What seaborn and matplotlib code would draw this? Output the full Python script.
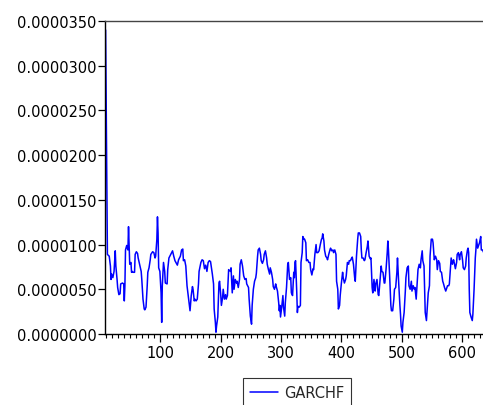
import numpy as np
import pandas as pd
import matplotlib
matplotlib.use("Agg")
import matplotlib.pyplot as plt
import seaborn as sns
from matplotlib.ticker import MultipleLocator, FuncFormatter, FixedLocator

# ---- data ----
obs = [9, 12, 15, 17, 18, 19, 21, 23, 25, 26, 28, 29, 31, 33, 34, 37, 39, 40, 41, 42,
       44, 46, 47, 48, 49, 51, 52, 53, 55, 57, 58, 60, 62, 63, 66, 68, 69, 71, 73, 74,
       76, 78, 79, 81, 83, 84, 87, 89, 91, 92, 94, 95, 96, 97, 99, 101, 102, 103, 105, 107,
       108, 111, 112, 114, 117, 120, 122, 124, 128, 130, 133, 135, 137, 138, 140, 142, 144, 146, 148, 149,
       151, 153, 154, 156, 157, 159, 161, 163, 164, 167, 169, 171, 173, 175, 177, 179, 181, 183, 186, 188,
       189, 191, 192, 193, 195, 197, 198, 200, 201, 203, 204, 206, 208, 209, 211, 213, 216, 217, 219, 221,
       222, 224, 226, 227, 229, 231, 232, 234, 236, 238, 240, 242, 243, 246, 247, 249, 251, 252, 254, 256,
       258, 259, 261, 262, 264, 266, 267, 269, 271, 272, 274, 276, 277, 279, 281, 282, 284, 286, 287, 289,
       291, 292, 294, 296, 297, 298, 299, 301, 303, 304, 306, 307, 309, 311, 312, 314, 316, 317, 319, 321,
       322, 323, 324, 326, 327, 328, 330, 332, 333, 335, 336, 338, 339, 341, 342, 344, 346, 348, 349, 351,
       353, 354, 356, 358, 359, 361, 363, 365, 367, 368, 369, 371, 372, 374, 376, 377, 379, 381, 382, 384,
       386, 387, 389, 391, 392, 394, 395, 397, 398, 400, 402, 403, 405, 407, 408, 410, 412, 413, 415, 417,
       418, 420, 422, 423, 425, 427, 428, 430, 432, 433, 434, 436, 438, 439, 441, 443, 444, 446, 448, 449,
       451, 452, 454, 456, 457, 459, 461, 462, 464, 466, 467, 469, 471, 472, 474, 476, 477, 478, 480, 482,
       483, 485, 487, 488, 490, 492, 493, 495, 497, 498, 499, 501, 502, 504, 506, 507, 509, 511, 512, 514,
       516, 517, 519, 521, 522, 524, 526, 527, 529, 531, 532, 534, 535, 537, 538, 539, 541, 542, 544, 546,
       547, 549, 551, 552, 553, 554, 556, 558, 559, 561, 563, 564, 566, 568, 569, 571, 573, 574, 576, 578,
       579, 581, 582, 584, 586, 587, 589, 591, 592, 594, 596, 597, 599, 601, 602, 604, 606, 607, 609, 610,
       611, 612, 613, 615, 617, 618, 620, 622, 623, 624, 626, 627, 629, 631, 632, 634, 636, 637]

# GARCH conditional variance, in units of 1e-6
garchf_e6 = [34.0, 8.9, 8.7, 7.6, 6.1, 6.7, 6.3, 7.0, 9.3, 7.6, 6.1, 5.2, 4.4, 4.5, 5.6, 5.7, 5.6, 3.7, 5.4, 9.4,
             9.9, 9.4, 12.0, 9.8, 7.8, 8.0, 6.9, 7.0, 6.9, 6.9, 8.9, 9.2, 9.0, 8.5, 7.6, 7.0, 6.1, 3.9, 2.8, 2.7,
             3.0, 5.4, 6.9, 7.4, 8.3, 8.9, 9.2, 9.1, 8.5, 8.7, 10.6, 13.1, 11.3, 7.4, 7.0, 4.6, 1.3, 5.4, 8.0, 7.0,
             5.7, 5.6, 7.2, 8.5, 8.9, 9.3, 8.7, 8.2, 7.7, 8.3, 8.7, 9.4, 9.5, 8.2, 8.3, 7.6, 5.4, 4.3, 3.2, 2.6,
             4.3, 5.3, 5.0, 3.7, 3.9, 3.7, 3.9, 5.6, 7.0, 8.0, 8.3, 8.2, 7.3, 7.7, 7.0, 8.0, 8.2, 8.1, 6.7, 5.6,
             2.8, 1.3, 0.2, 0.9, 1.9, 5.7, 5.9, 4.3, 3.2, 4.1, 5.0, 3.9, 4.4, 3.9, 4.3, 7.2, 7.0, 7.4, 4.6, 6.5,
             5.0, 6.1, 5.7, 5.9, 5.2, 6.1, 7.8, 8.3, 7.6, 6.5, 6.1, 6.2, 5.6, 5.2, 3.9, 2.0, 1.1, 3.2, 5.0, 5.9,
             6.3, 6.8, 8.7, 9.4, 9.6, 8.9, 8.2, 7.9, 8.3, 8.9, 9.3, 8.5, 7.8, 7.2, 6.7, 7.4, 6.9, 6.1, 5.3, 5.0,
             5.6, 5.3, 4.8, 3.5, 2.6, 3.2, 1.9, 3.0, 4.3, 3.0, 2.0, 3.5, 5.2, 7.8, 8.0, 6.1, 6.3, 4.6, 4.3, 6.9,
             6.3, 8.0, 8.2, 4.6, 2.4, 3.1, 3.0, 3.2, 8.0, 9.1, 10.9, 10.6, 10.6, 10.2, 8.2, 8.3, 8.0, 8.0, 7.2, 6.6,
             7.3, 7.2, 8.9, 10.0, 9.1, 9.1, 9.3, 10.0, 10.6, 10.7, 11.2, 10.4, 9.4, 8.7, 8.5, 8.3, 8.9, 9.4, 9.6, 9.3,
             9.4, 9.1, 9.4, 8.9, 5.9, 5.0, 2.8, 3.2, 4.3, 5.7, 6.9, 6.3, 5.7, 6.1, 6.5, 8.0, 7.8, 8.2, 8.2, 8.5,
             8.6, 7.8, 6.3, 5.9, 8.7, 10.6, 11.3, 11.3, 10.9, 9.4, 8.5, 8.5, 8.2, 8.3, 9.1, 9.8, 10.4, 8.7, 8.4, 8.5,
             5.2, 4.6, 6.1, 4.8, 5.6, 6.1, 4.4, 4.3, 5.9, 7.6, 7.0, 6.9, 5.7, 5.7, 7.2, 9.1, 10.4, 9.4, 6.5, 3.2,
             2.6, 2.6, 3.9, 5.0, 5.2, 6.9, 8.5, 5.7, 3.2, 2.2, 0.9, 0.2, 1.3, 2.4, 4.8, 6.3, 7.4, 7.6, 5.4, 5.0,
             5.9, 4.8, 5.4, 5.0, 5.2, 3.9, 6.1, 7.2, 7.8, 7.4, 8.3, 9.3, 8.2, 7.6, 5.0, 2.4, 1.5, 2.6, 4.6, 5.4,
             8.7, 10.6, 10.6, 10.2, 9.3, 8.3, 8.7, 8.3, 7.2, 8.2, 7.9, 7.0, 6.9, 5.9, 5.7, 5.2, 4.8, 5.0, 5.4, 5.4,
             5.6, 7.6, 8.5, 7.8, 8.3, 8.0, 7.3, 8.0, 8.9, 9.1, 8.3, 8.9, 9.2, 8.2, 7.4, 7.2, 7.6, 8.5, 9.4, 9.6,
             9.1, 5.0, 2.4, 1.9, 1.5, 2.2, 5.0, 8.5, 9.4, 10.6, 9.6, 9.8, 10.2, 10.9, 9.4, 9.4, 9.1, 8.2]

series_name = "GARCHF"
x_major_ticks = [100, 200, 300, 400, 500, 600]
y_ticks_e6 = [0, 5, 10, 15, 20, 25, 30, 35]

df = pd.DataFrame({"obs": obs, series_name: np.array(garchf_e6) * 1e-6})

# ---- styling ----
sns.set_theme(style="ticks")
plt.rcParams["font.family"] = ["DejaVu Sans"]

fig = plt.figure(figsize=(4.83, 4.06), dpi=100)
ax = fig.add_axes([105 / 483, 71 / 406, 1.0 - 105 / 483 + 0.004, (335 - 22) / 406])

sns.lineplot(data=df, x="obs", y=series_name, ax=ax, color="#0000ff",
             linewidth=1.1, label=series_name, legend=False, sort=False, estimator=None)

ax.set_xlim(8, 638)
ax.set_ylim(0, 35e-6)
ax.set_xlabel("")
ax.set_ylabel("")

ax.xaxis.set_major_locator(FixedLocator(x_major_ticks))
ax.xaxis.set_minor_locator(MultipleLocator(10))
ax.yaxis.set_major_locator(FixedLocator([v * 1e-6 for v in y_ticks_e6]))
ax.yaxis.set_major_formatter(FuncFormatter(lambda v, p: f"{v:.7f}"))

ax.tick_params(axis="both", which="major", direction="out", length=5, width=0.9,
               color="black", labelsize=10.5, labelcolor="black", pad=1)
ax.tick_params(axis="x", which="minor", direction="out", length=3, width=0.8, color="black")
ax.tick_params(axis="x", which="major", length=6, pad=2)

for side in ["left", "bottom", "top"]:
    ax.spines[side].set_visible(True)
    ax.spines[side].set_color("black")
    ax.spines[side].set_linewidth(1.0)
ax.spines["top"].set_color("#444444")
ax.spines["right"].set_visible(False)

handles, labels = ax.get_legend_handles_labels()
leg = fig.legend(handles, labels, loc="upper center",
                 bbox_to_anchor=(297 / 483, 1 - 372 / 406),
                 frameon=True, fancybox=False, fontsize=10.5,
                 handlelength=1.9, handletextpad=0.45, borderpad=0.45)
leg.get_frame().set_edgecolor("black")
leg.get_frame().set_linewidth(0.8)
leg.get_frame().set_facecolor("white")

fig.savefig("out.png", dpi=100)
